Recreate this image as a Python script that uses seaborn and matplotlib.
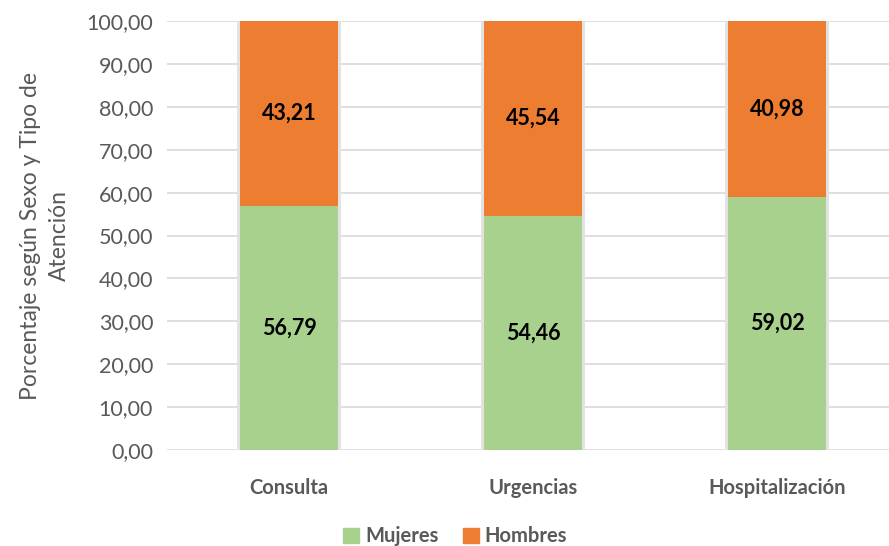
import matplotlib.pyplot as plt
import matplotlib.patches as mpatches
import pandas as pd
import seaborn as sns

# Datos
tipos = ["Consulta", "Urgencias", "Hospitalización"]
mujeres = [56.79, 54.46, 59.02]
hombres = [43.21, 45.54, 40.98]
yticks = [0, 10, 20, 30, 40, 50, 60, 70, 80, 90, 100]

verde = "#A9D18E"
naranja = "#ED7D31"
gris = "#595959"

df = pd.DataFrame({"tipo": tipos, "Mujeres": mujeres, "Hombres": hombres})
df["total"] = df["Mujeres"] + df["Hombres"]

sns.set_style("white")
plt.rcParams["font.family"] = ["Lato", "DejaVu Sans"]

fig = plt.figure(figsize=(8.89, 5.46), dpi=100)
ax = fig.add_axes([167 / 889, 96 / 546, 732 / 889, 429 / 546])

# sombra suave detrás de las barras
sns.barplot(data=df, x="tipo", y="total", color="#e2e2e2", width=0.425,
            saturation=1, linewidth=0, ax=ax, zorder=2)
# barras apiladas: total (Hombres arriba) y Mujeres abajo
sns.barplot(data=df, x="tipo", y="total", color=naranja, width=0.40,
            saturation=1, linewidth=0, ax=ax, zorder=3)
sns.barplot(data=df, x="tipo", y="Mujeres", color=verde, width=0.40,
            saturation=1, linewidth=0, ax=ax, zorder=4)

for i, (m, h) in enumerate(zip(mujeres, hombres)):
    ax.text(i, m / 2, f"{m:.2f}".replace(".", ","), ha="center", va="center",
            fontsize=15.5, fontweight="bold", color="black", zorder=5)
    ax.text(i, m + h / 2, f"{h:.2f}".replace(".", ","), ha="center", va="center",
            fontsize=15.5, fontweight="bold", color="black", zorder=5)

ax.set_xlim(-0.5, 2.5)
ax.set_ylim(0, 100)
ax.set_yticks(yticks)
ax.set_yticklabels([f"{v:.2f}".replace(".", ",") for v in yticks],
                   fontsize=15.5, color=gris)
ax.set_xticks(range(len(tipos)))
ax.set_xticklabels(tipos, fontsize=14.5, fontweight="bold", color=gris)
ax.tick_params(axis="both", length=0)
ax.tick_params(axis="x", pad=20)
ax.tick_params(axis="y", pad=10)
ax.grid(axis="y", color="#d9d9d9", linewidth=1.2, zorder=0)
ax.set_axisbelow(True)
for s in ax.spines.values():
    s.set_visible(False)

ax.set_xlabel("")
ax.set_ylabel("Porcentaje según Sexo y Tipo de\nAtención", fontsize=16.5,
              color=gris, labelpad=12, linespacing=1.45)

handles = [mpatches.Patch(color=verde, label="Mujeres"),
           mpatches.Patch(color=naranja, label="Hombres")]
leg = fig.legend(handles=handles, loc="lower center", ncol=2,
                 bbox_to_anchor=(0.512, -0.034), frameon=False,
                 handlelength=0.8, handleheight=0.8, handletextpad=0.3,
                 columnspacing=1.2, prop={"size": 14.5, "weight": "bold"})
for t in leg.get_texts():
    t.set_color(gris)

fig.savefig("out.png", dpi=100)
